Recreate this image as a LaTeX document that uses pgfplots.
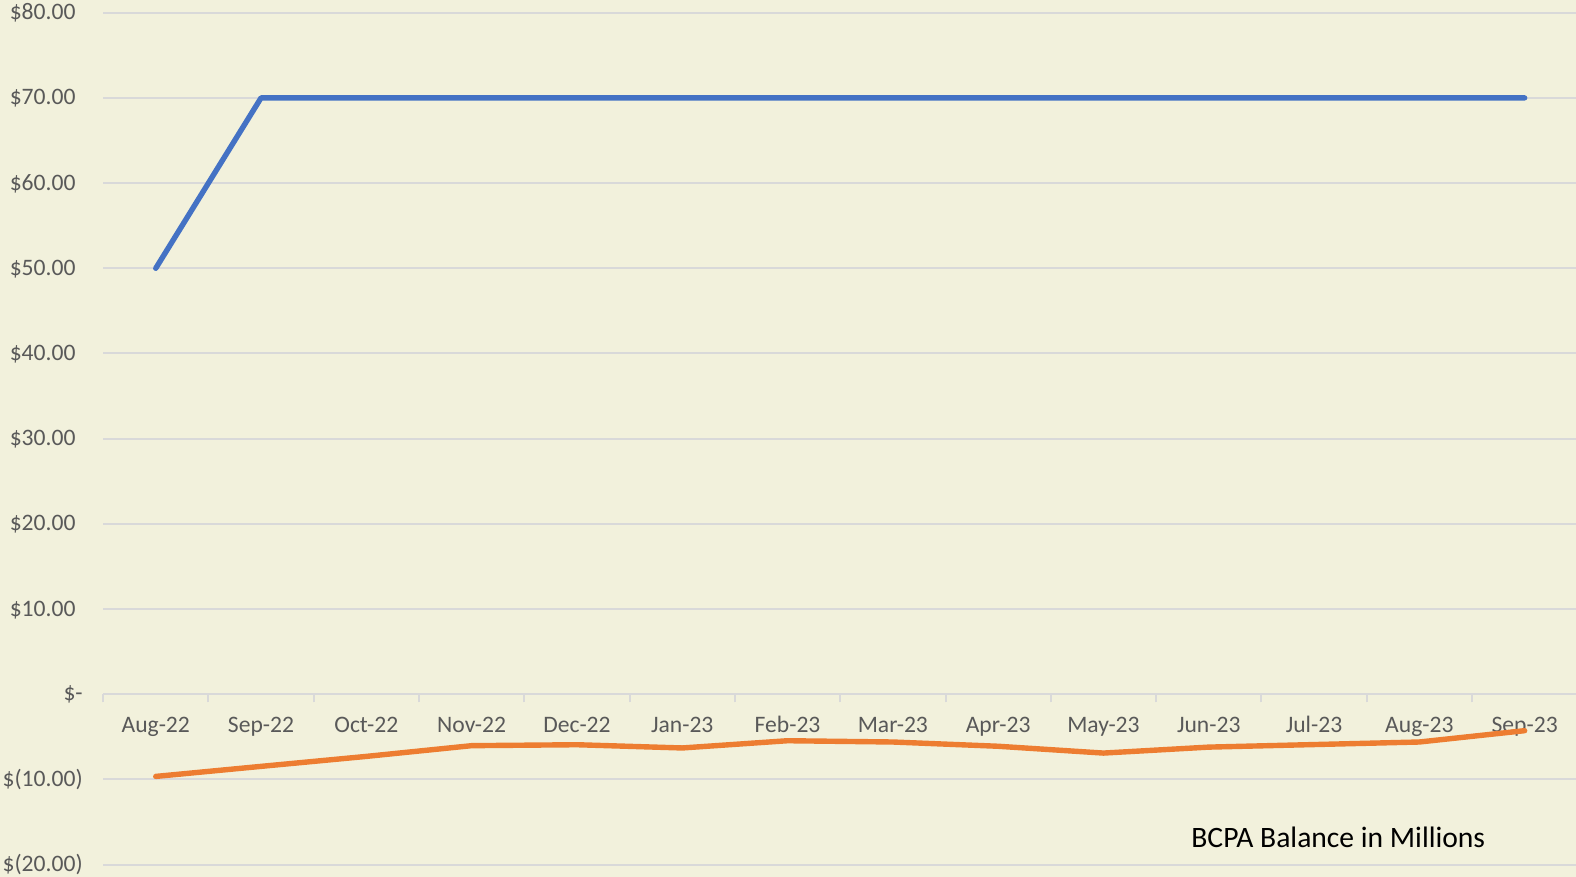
\documentclass[border=0pt]{standalone}
\usepackage{pgfplots}
\pgfplotsset{compat=1.18}
\usepackage{fontspec}
\setmainfont{Carlito}
\usetikzlibrary{backgrounds}
\definecolor{bg}{RGB}{242,241,220}
\definecolor{gridc}{RGB}{217,217,217}
\definecolor{lab}{RGB}{89,89,89}
\definecolor{cblue}{RGB}{68,114,196}
\definecolor{corange}{RGB}{237,125,49}
\begin{document}
\begin{tikzpicture}
\begin{axis}[
 scale only axis, width=737.1pt, height=426pt,
 xmin=-0.5, xmax=13.5, ymin=-20, ymax=80,
 axis x line=middle, axis y line=left,
 x axis line style={-, draw=gridc, line width=1pt},
 y axis line style={draw=none},
 hide obscured x ticks=false, hide obscured y ticks=false,
 xtick={0,...,13},
 xticklabels={Aug-22,Sep-22,Oct-22,Nov-22,Dec-22,Jan-23,Feb-23,Mar-23,Apr-23,May-23,Jun-23,Jul-23,Aug-23,Sep-23},
 major tick length=0pt,
 minor xtick={-0.5,0.5,...,13.5},
 minor tick length=4pt,
 minor x tick style={draw=gridc, line width=1pt},
 tick align=outside,
 ytick={-20,-10,...,80},
 yticklabels={\$(20.00),\$(10.00),\$-\hspace{13pt},\$10.00\phantom{)},\$20.00\phantom{)},\$30.00\phantom{)},\$40.00\phantom{)},\$50.00\phantom{)},\$60.00\phantom{)},\$70.00\phantom{)},\$80.00\phantom{)}},
 ymajorgrids, grid style={draw=gridc, line width=1pt},
 tick label style={font=\fontsize{11.8}{14}\selectfont, text=lab},
 yticklabel style={anchor=east, inner sep=0pt, xshift=-10pt},
 xticklabel style={inner sep=0pt, anchor=base, yshift=-19pt},
 clip=false,
]
\addplot[cblue, line width=2.7pt, line cap=round, line join=round] coordinates {
(0,50) (1,70) (2,70) (3,70) (4,70) (5,70) (6,70) (7,70) (8,70) (9,70) (10,70) (11,70) (12,70) (13,70)};
\addplot[corange, line width=2.7pt, line cap=round, line join=round] coordinates {
(0,-9.64) (1,-8.46) (2,-7.29) (3,-6.03) (4,-5.92) (5,-6.3) (6,-5.45) (7,-5.6) (8,-6.1) (9,-6.9) (10,-6.2) (11,-5.9) (12,-5.6) (13,-4.27)};
\node[font=\fontsize{14.8}{18}\selectfont, text=black, inner sep=0pt] at (axis cs:11.23,-16.75) {BCPA Balance in Millions};
\end{axis}
\begin{pgfonlayer}{background}
\fill[bg] ([xshift=-51.55pt,yshift=-6.15pt]current axis.south west) rectangle ([xshift=-0.65pt,yshift=6.35pt]current axis.north east);
\end{pgfonlayer}
\pgfresetboundingbox
\useasboundingbox ([xshift=-51.55pt,yshift=-6.15pt]current axis.south west) rectangle ([xshift=-0.65pt,yshift=6.35pt]current axis.north east);
\end{tikzpicture}
\end{document}
